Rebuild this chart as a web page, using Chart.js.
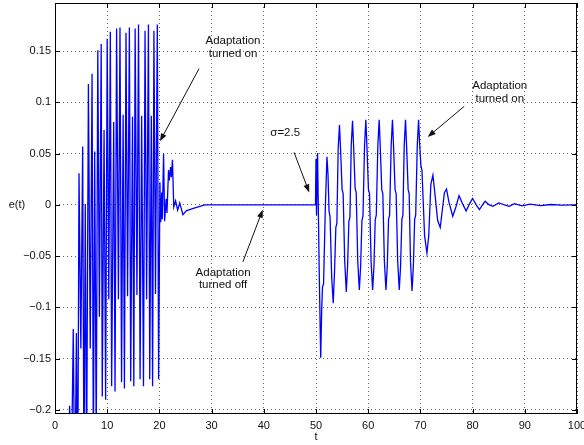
<!DOCTYPE html>
<html>
<head>
<meta charset="utf-8">
<script src="https://cdn.jsdelivr.net/npm/chart.js@4.4.0/dist/chart.umd.min.js"></script>
<style>
  html, body { margin: 0; padding: 0; background: #fff; }
  #wrap { width: 584px; height: 445px; }
</style>
</head>
<body>
<div id="wrap"><canvas id="errChart" width="584" height="445"></canvas></div>
<script>
// e(t), in three pieces
// 1) burst before t=20 (signal enters from below the axis)
const tBurst = [
  0, 2.4, 2.8, 3.15, 3.5, 3.8, 4.1, 4.35, 4.6, 4.95,
  5.3, 5.55, 5.8, 6.05, 6.4, 6.75, 7.1, 7.35, 7.6, 7.9,
  8.2, 8.5, 8.85, 9.05, 9.4, 9.7, 10.0, 10.3, 10.6, 10.85,
  11.25, 11.5, 11.8, 12.15, 12.45, 12.75, 13.05, 13.3, 13.6, 13.9,
  14.25, 14.5, 14.85, 15.1, 15.35, 15.7, 16.0, 16.3, 16.6, 16.95,
  17.25, 17.55, 17.9, 18.15, 18.45, 18.7, 18.95, 19.25, 19.6, 19.85
];
const eBurst = [
  -0.60, -0.30, -0.196, -0.26, -0.121, -0.30, -0.125, -0.29, 0.031, -0.14,
  0.057, -0.27, 0.001, -0.26, 0.118, -0.14, 0.128, -0.25, 0.052, -0.23,
  0.151, -0.109, 0.157, -0.187, 0.073, -0.19, 0.162, -0.092, 0.169, -0.177,
  0.081, -0.182, 0.172, -0.092, 0.173, -0.173, 0.088, -0.179, 0.168, -0.089,
  0.173, -0.172, 0.086, -0.177, 0.172, -0.088, 0.176, -0.170, 0.087, -0.177,
  0.170, -0.092, 0.176, -0.170, 0.087, -0.177, 0.170, -0.087, 0.176, -0.170
];
// 2) settling after adaptation is switched on, then flat until t=50
const tSettle = [
  20.1, 20.25, 20.45, 20.55, 20.8, 21.0, 21.3, 21.45, 21.75, 21.9,
  22.15, 22.3, 22.5, 22.75, 23.1, 23.5, 23.9, 24.5, 25.2, 25.8,
  26.8, 28.7, 49.9
];
const eSettle = [
  0.022, -0.017, 0.012, -0.014, 0.050, -0.016, 0.006, -0.008, 0.034, 0.024,
  0.037, 0.027, 0.044, -0.002, 0.004, -0.005, 0.002, -0.0095, -0.0055, -0.0045,
  -0.003, 0, 0
];
// 3) sigma = 2.5 disturbance at t=50 and decay after t=70
const tSigma = [
  50.0, 50.1, 50.3, 50.6, 50.9, 51.1, 51.25, 51.45, 51.8, 52.1,
  52.3, 52.5, 52.7, 53.0, 53.3, 53.55, 53.8, 54.0, 54.25, 54.5,
  54.7, 55.0, 55.2, 55.5, 55.8, 56.05, 56.3, 56.5, 56.75, 57.0,
  57.2, 57.5, 57.7, 58.0, 58.3, 58.55, 58.8, 59.0, 59.3, 59.55,
  59.75, 60.05, 60.25, 60.55, 60.85, 61.1, 61.35, 61.55, 61.85, 62.1,
  62.3, 62.6, 62.8, 63.1, 63.4, 63.65, 63.9, 64.1, 64.4, 64.65,
  64.85, 65.15, 65.35, 65.65, 65.95, 66.2, 66.45, 66.65, 66.9, 67.15,
  67.35, 67.65, 67.85, 68.1, 68.4, 68.65, 68.9, 69.1, 69.4, 69.65,
  69.85, 70.1, 70.3, 70.8, 71.25, 71.6, 72.0, 72.4, 72.8, 73.3,
  73.8, 74.2, 74.6, 75.0, 75.5, 76.2, 76.8, 77.4, 78.0, 78.75,
  79.4, 80.0, 80.7, 81.3, 81.9, 82.4, 83.2, 83.9, 85.0, 87.0,
  88.0, 89.5, 91.0, 93.0, 95.0, 97.0, 100.0
];
const eSigma = [
  0.045, -0.010, 0.0507, -0.060, -0.149, -0.100, -0.080, -0.077, 0.000, 0.047,
  0.030, -0.006, -0.012, -0.070, -0.096, -0.065, -0.022, -0.018, 0.055, 0.078,
  0.055, 0.015, 0.011, -0.055, -0.085, -0.060, -0.016, -0.012, 0.058, 0.082,
  0.058, 0.016, 0.012, -0.055, -0.083, -0.060, -0.015, -0.011, 0.058, 0.083,
  0.058, 0.015, 0.011, -0.055, -0.083, -0.060, -0.014, -0.010, 0.058, 0.083,
  0.058, 0.015, 0.011, -0.055, -0.083, -0.060, -0.014, -0.010, 0.058, 0.083,
  0.058, 0.015, 0.011, -0.055, -0.083, -0.060, -0.014, -0.010, 0.058, 0.083,
  0.058, 0.015, 0.011, -0.055, -0.084, -0.060, -0.014, -0.010, 0.058, 0.083,
  0.060, 0.038, 0.034, -0.030, -0.047, -0.030, 0.020, 0.029, 0.010, -0.015,
  -0.022, -0.005, 0.012, 0.0155, 0.002, -0.011, -0.002, 0.009, 0.002, -0.006,
  0.001, 0.0063, 0, -0.0045, 0, 0.0035, 0, -0.0014, 0.002, -0.0013,
  0.0013, -0.001, 0.0008, -0.0006, 0.0004, -0.0003, 0
];

const xTicks = [0, 10, 20, 30, 40, 50, 60, 70, 80, 90, 100];
const yTicks = [-0.2, -0.15, -0.1, -0.05, 0, 0.05, 0.1, 0.15];
const yTickLabels = ['\u22120.2', '\u22120.15', '\u22120.1', '\u22120.05', '0', '0.05', '0.1', '0.15'];

// text notes with arrows, in data coordinates
const notes = [
  { lines: ['Adaptation', 'turned on'], at: [34.1, 0.160], from: [27.6, 0.133], to: [20.1, 0.062] },
  { lines: ['\u03c3=2.5'], at: [44.1, 0.0708], from: [45.8, 0.0513], to: [48.7, 0.0122] },
  { lines: ['Adaptation', 'turned off'], at: [32.2, -0.0662], from: [36.0, -0.0555], to: [39.8, -0.0047] },
  { lines: ['Adaptation', 'turned on'], at: [85.2, 0.1158], from: [78.4, 0.0962], to: [71.4, 0.0663] }
];

const FONT = "'Liberation Sans', Arial, Helvetica, sans-serif";

function drawArrow(ctx, x0, y0, x1, y1) {
  const ang = Math.atan2(y1 - y0, x1 - x0);
  const len = 8, half = 3;
  ctx.beginPath();
  ctx.moveTo(x0, y0);
  ctx.lineTo(x1 - Math.cos(ang) * len * 0.8, y1 - Math.sin(ang) * len * 0.8);
  ctx.stroke();
  ctx.beginPath();
  ctx.moveTo(x1, y1);
  ctx.lineTo(x1 - Math.cos(ang) * len - Math.sin(ang) * half, y1 - Math.sin(ang) * len + Math.cos(ang) * half);
  ctx.lineTo(x1 - Math.cos(ang) * len + Math.sin(ang) * half, y1 - Math.sin(ang) * len - Math.cos(ang) * half);
  ctx.closePath();
  ctx.fill();
}

// MATLAB look: boxed axes, inward ticks on all sides, labels and notes
const matlabFrame = {
  id: 'matlabFrame',
  afterDatasetsDraw(chart) {
    const { ctx, chartArea: a, scales: { x, y } } = chart;
    ctx.save();
    ctx.strokeStyle = '#000';
    ctx.lineWidth = 1;
    ctx.beginPath();
    xTicks.forEach(v => {
      const px = Math.round(x.getPixelForValue(v)) + 0.5;
      ctx.moveTo(px, a.bottom); ctx.lineTo(px, a.bottom - 5);
      ctx.moveTo(px, a.top); ctx.lineTo(px, a.top + 5);
    });
    yTicks.forEach(v => {
      const py = Math.round(y.getPixelForValue(v)) + 0.5;
      ctx.moveTo(a.left, py); ctx.lineTo(a.left + 5, py);
      ctx.moveTo(a.right, py); ctx.lineTo(a.right - 5, py);
    });
    ctx.stroke();
    ctx.strokeRect(Math.round(a.left) + 0.5, Math.round(a.top) + 0.5,
      Math.round(a.width) - 1, Math.round(a.height) - 1);

    // axis titles
    ctx.fillStyle = '#111';
    ctx.font = '11px ' + FONT;
    ctx.textAlign = 'center';
    ctx.textBaseline = 'middle';
    ctx.fillText('e(t)', 17, y.getPixelForValue(0));
    ctx.fillText('t', x.getPixelForValue(50), 437);

    // notes
    ctx.font = '11.5px ' + FONT;
    ctx.lineWidth = 1;
    ctx.strokeStyle = '#111';
    notes.forEach(n => {
      const cx = x.getPixelForValue(n.at[0]);
      const cy = y.getPixelForValue(n.at[1]);
      n.lines.forEach((s, i) => ctx.fillText(s, cx, cy + i * 12.5));
      drawArrow(ctx,
        x.getPixelForValue(n.from[0]), y.getPixelForValue(n.from[1]),
        x.getPixelForValue(n.to[0]), y.getPixelForValue(n.to[1]));
    });
    ctx.restore();
  }
};

const tValues = tBurst.concat(tSettle, tSigma);
const eValues = eBurst.concat(eSettle, eSigma);
const points = tValues.map((t, i) => ({ x: t, y: eValues[i] }));

new Chart(document.getElementById('errChart').getContext('2d'), {
  type: 'line',
  data: {
    datasets: [{
      data: points,
      borderColor: '#0000ff',
      borderWidth: 1.3,
      pointRadius: 0,
      tension: 0,
      fill: false,
      clip: 0
    }]
  },
  options: {
    responsive: false,
    animation: false,
    events: [],
    layout: { padding: { top: 3, right: 7, left: 0, bottom: 0 } },
    plugins: { legend: { display: false }, tooltip: { enabled: false } },
    scales: {
      x: {
        type: 'linear',
        min: 0,
        max: 100,
        afterBuildTicks: s => { s.ticks = xTicks.map(v => ({ value: v })); },
        afterFit: s => { s.height = 31; s.paddingLeft = 0; s.paddingRight = 0; },
        grid: { color: 'rgba(0,0,0,0.6)', lineWidth: 1, drawTicks: false },
        border: { display: false, dash: [1, 3] },
        ticks: {
          padding: 5,
          autoSkip: false,
          maxRotation: 0,
          color: '#111',
          font: { family: FONT, size: 11 },
          callback: v => String(v)
        }
      },
      y: {
        type: 'linear',
        min: -0.204,
        max: 0.197,
        afterBuildTicks: s => { s.ticks = yTicks.map(v => ({ value: v })); },
        afterFit: s => { s.width = 55; s.paddingTop = 0; s.paddingBottom = 0; },
        grid: { color: 'rgba(0,0,0,0.6)', lineWidth: 1, drawTicks: false },
        border: { display: false, dash: [1, 3] },
        ticks: {
          padding: 4,
          autoSkip: false,
          color: '#111',
          font: { family: FONT, size: 11 },
          callback: (v, i) => yTickLabels[i]
        }
      }
    }
  },
  plugins: [matlabFrame]
});
</script>
</body>
</html>
